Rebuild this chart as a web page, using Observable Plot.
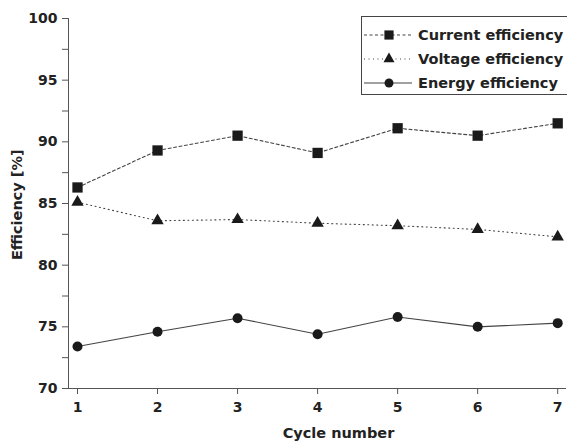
<!DOCTYPE html>
<html><head><meta charset="utf-8">
<script src="https://cdn.jsdelivr.net/npm/d3@7"></script>
<script src="https://cdn.jsdelivr.net/npm/@observablehq/plot@0.6"></script>
<style>
html,body{margin:0;padding:0;background:#fff;}
#wrap{position:relative;width:567px;height:446px;overflow:hidden;}
#legend{position:absolute;left:0;top:0;}
</style></head>
<body><div id="wrap"></div>
<script>
const cycles = [1, 2, 3, 4, 5, 6, 7];
const currentEff = [86.3, 89.3, 90.5, 89.1, 91.1, 90.5, 91.5];
const voltageEff = [85.1, 83.6, 83.7, 83.4, 83.2, 82.9, 82.3];
const energyEff = [73.4, 74.6, 75.7, 74.4, 75.8, 75.0, 75.3];
const seriesNames = ["Current efficiency", "Voltage efficiency", "Energy efficiency"];
const yTicks = [70, 75, 80, 85, 90, 95, 100];
const yMinor = [72.5, 77.5, 82.5, 87.5, 92.5, 97.5];

const font = "'DejaVu Sans', 'Noto Sans', sans-serif";
const ink = "#1a1a1a";
const lineInk = "#444";
const styles = [
  {dash: "3,2.5", symbol: "square", r: 5.8},
  {dash: "1,3.5", symbol: "triangle", r: 4.6},
  {dash: null, symbol: "circle", r: 5}
];
const sets = [currentEff, voltageEff, energyEff];
const rows = [];
sets.forEach((vals, s) => cycles.forEach((c, i) => rows.push({series: seriesNames[s], s, cycle: c, value: vals[i]})));

const marks = [];
sets.forEach((vals, s) => {
  const d = rows.filter(r => r.s === s);
  marks.push(Plot.line(d, {x: "cycle", y: "value", stroke: lineInk, strokeWidth: 1.1, strokeDasharray: styles[s].dash}));
});
sets.forEach((vals, s) => {
  const d = rows.filter(r => r.s === s);
  marks.push(Plot.dot(d, {x: "cycle", y: "value", symbol: () => styles[s].symbol, fill: ink, stroke: "none", r: styles[s].r}));
});

const chart = Plot.plot({
  width: 567,
  height: 446,
  marginLeft: 68,
  marginTop: 18,
  marginBottom: 58,
  marginRight: 1,
  style: {fontFamily: font, fontSize: "14px", fontWeight: "bold", color: "#222", background: "#fff"},
  symbol: {type: "identity"},
  x: {domain: [0.8875, 7.11], ticks: cycles, tickFormat: d3.format("d"), label: null},
  y: {domain: [70, 100], ticks: yTicks, label: null},
  marks: [
    Plot.axisY({ticks: yTicks, tickSize: 6, tickPadding: 5, fontWeight: "bold", fontSize: 14, label: null, stroke: "#555"}),
    Plot.axisY({ticks: yMinor, tickSize: 6, tickFormat: () => "", label: null, stroke: "#555"}),
    Plot.axisX({ticks: cycles, tickSize: 6, tickPadding: 8, fontWeight: "bold", fontSize: 14, label: null, stroke: "#555", tickFormat: d3.format("d")}),
    Plot.ruleX([0.8875], {y1: 70, y2: 100, stroke: "#555", strokeWidth: 1}),
    Plot.ruleY([70], {x1: 0.8125, x2: 7.11, stroke: "#555", strokeWidth: 1}),
    ...marks,
    Plot.text(["Efficiency [%]"], {y: [84.9], frameAnchor: "left", textAnchor: "middle", dx: -51, rotate: -90, fontSize: 14.5, fontWeight: "bold", fill: "#222"}),
    Plot.text(["Cycle number"], {frameAnchor: "bottom", dx: 21, dy: 49, fontSize: 14.5, fontWeight: "bold", fill: "#222"})
  ]
});
const wrap = document.getElementById("wrap");
wrap.appendChild(chart);

// legend overlay
const lg = d3.select(wrap).append("svg").attr("id", "legend").attr("width", 567).attr("height", 446)
  .style("font-family", font);
lg.append("rect").attr("x", 361.5).attr("y", 16.5).attr("width", 210).attr("height", 78)
  .attr("fill", "#fff").attr("stroke", "#444").attr("stroke-width", 1);
const rowY = [35, 59, 83];
seriesNames.forEach((name, s) => {
  const y = rowY[s];
  lg.append("line").attr("x1", 364).attr("x2", 412).attr("y1", y).attr("y2", y)
    .attr("stroke", lineInk).attr("stroke-width", 1.1).attr("stroke-dasharray", styles[s].dash);
  const sym = {square: d3.symbolSquare, triangle: d3.symbolTriangle, circle: d3.symbolCircle}[styles[s].symbol];
  lg.append("path").attr("d", d3.symbol(sym, Math.PI * styles[s].r * styles[s].r * 0.8)())
    .attr("transform", `translate(389,${y})`).attr("fill", ink);
  lg.append("text").attr("x", 418).attr("y", y).attr("dy", "0.35em").attr("font-size", 14.5)
    .attr("font-weight", "bold").attr("fill", "#222").text(name);
});
</script></body></html>
